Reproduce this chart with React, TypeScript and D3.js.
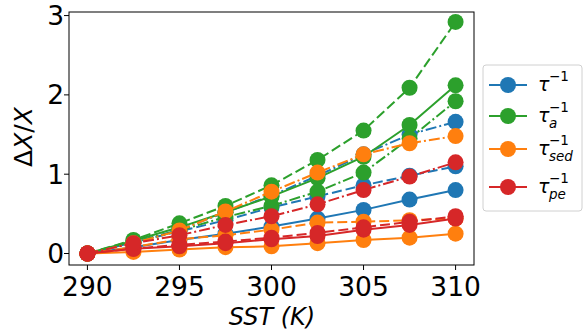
import React from "react";
import * as d3 from "d3";

// SST grid (K)
const sst = [290, 292.5, 295, 297.5, 300, 302.5, 305, 307.5, 310];

// ΔX/X, one array per quantity and line style (solid / dashed / dash-dot)
const tauSolid = [0, 0.08, 0.17, 0.25, 0.34, 0.44, 0.55, 0.68, 0.8];
const tauDashed = [0, 0.14, 0.28, 0.42, 0.58, 0.72, 0.86, 0.98, 1.1];
const tauDashDot = [0, 0.14, 0.3, 0.52, 0.73, 0.98, 1.25, 1.5, 1.66];

const tauASolid = [0, 0.16, 0.33, 0.52, 0.72, 0.95, 1.22, 1.62, 2.12];
const tauADashed = [0, 0.17, 0.38, 0.6, 0.86, 1.18, 1.55, 2.09, 2.92];
const tauADashDot = [0, 0.14, 0.29, 0.46, 0.6, 0.78, 1.02, 1.45, 1.92];

const tauSedSolid = [0, 0.02, 0.05, 0.08, 0.09, 0.13, 0.17, 0.2, 0.25];
const tauSedDashed = [0, 0.08, 0.18, 0.23, 0.3, 0.39, 0.4, 0.42, 0.44];
const tauSedDashDot = [0, 0.13, 0.29, 0.53, 0.78, 1.02, 1.25, 1.39, 1.48];

const tauPeSolid = [0, 0.06, 0.09, 0.13, 0.18, 0.22, 0.3, 0.36, 0.44];
const tauPeDashed = [0, 0.06, 0.11, 0.15, 0.2, 0.26, 0.33, 0.4, 0.47];
const tauPeDashDot = [0, 0.13, 0.23, 0.36, 0.47, 0.62, 0.8, 0.97, 1.15];

const xTicks = [290, 295, 300, 305, 310];
const yTicks = [0, 1, 2, 3];

const BLUE = "#1f77b4";
const GREEN = "#2ca02c";
const ORANGE = "#ff7f0e";
const RED = "#d62728";

const DASHED = "10,4";
const DASHDOT = "11,3,2,3";

const series = [
  { c: BLUE, d: tauSolid, dash: "" },
  { c: BLUE, d: tauDashed, dash: DASHED },
  { c: BLUE, d: tauDashDot, dash: DASHDOT },
  { c: GREEN, d: tauASolid, dash: "" },
  { c: GREEN, d: tauADashed, dash: DASHED },
  { c: GREEN, d: tauADashDot, dash: DASHDOT },
  { c: ORANGE, d: tauSedSolid, dash: "" },
  { c: ORANGE, d: tauSedDashed, dash: DASHED },
  { c: ORANGE, d: tauSedDashDot, dash: DASHDOT },
  { c: RED, d: tauPeSolid, dash: "" },
  { c: RED, d: tauPeDashed, dash: DASHED },
  { c: RED, d: tauPeDashDot, dash: DASHDOT },
];

const legend = [
  { c: BLUE, sub: "" },
  { c: GREEN, sub: "a" },
  { c: ORANGE, sub: "sed" },
  { c: RED, sub: "pe" },
];

const W = 585;
const H = 336;
const left = 69;
const right = 474;
const top = 12;
const bottom = 265;
const FONT = "DejaVu Sans, sans-serif";

export default function App() {
  const x = d3.scaleLinear().domain([289, 311]).range([left, right]);
  const y = d3.scaleLinear().domain([-0.145, 3.045]).range([bottom, top]);
  const lineGen = d3
    .line<number>()
    .x((d, i) => x(sst[i]))
    .y((d) => y(d));

  const legendY = [85, 116, 149, 187];

  return (
    <svg
      width={W}
      height={H}
      style={{ position: "absolute", left: 0, top: 0, background: "#fff" }}
      fontFamily={FONT}
    >
      {/* series: line then markers, like matplotlib */}
      <g>
        {series.map((s, k) => (
          <g key={k}>
            <path
              d={lineGen(s.d) || ""}
              fill="none"
              stroke={s.c}
              strokeWidth={2}
              strokeDasharray={s.dash || undefined}
            />
            {s.d.map((v, i) => (
              <circle key={i} cx={x(sst[i])} cy={y(v)} r={8} fill={s.c} />
            ))}
          </g>
        ))}
      </g>

      {/* frame */}
      <rect
        x={left}
        y={top}
        width={right - left}
        height={bottom - top}
        fill="none"
        stroke="#000"
        strokeWidth={1}
      />

      {/* x axis */}
      {xTicks.map((t) => (
        <g key={t} transform={`translate(${x(t)},${bottom})`}>
          <line y2={5} stroke="#000" strokeWidth={1} />
          <text y={31} textAnchor="middle" fontSize={26.5} fill="#000">
            {t}
          </text>
        </g>
      ))}
      <text
        x={272}
        y={325}
        textAnchor="middle"
        fontSize={24}
        fontStyle="italic"
        fill="#000"
      >
        SST (K)
      </text>

      {/* y axis */}
      {yTicks.map((t) => (
        <g key={t} transform={`translate(${left},${y(t)})`}>
          <line x2={-5} stroke="#000" strokeWidth={1} />
          <text x={-5} dy="0.36em" textAnchor="end" fontSize={26.5} fill="#000">
            {t}
          </text>
        </g>
      ))}
      <text
        transform={`translate(32,137) rotate(-90)`}
        textAnchor="middle"
        fontSize={25}
        fill="#000"
      >
        Δ<tspan fontStyle="italic">X</tspan>/<tspan fontStyle="italic">X</tspan>
      </text>

      {/* legend */}
      <rect
        x={483}
        y={65}
        width={99}
        height={146}
        rx={3}
        fill="#fff"
        stroke="#d0d0d0"
        strokeWidth={1}
      />
      {legend.map((l, i) => (
        <g key={i} transform={`translate(0,${legendY[i]})`}>
          <line x1={489} x2={527} stroke={l.c} strokeWidth={2} />
          <circle cx={508} cy={0} r={8} fill={l.c} />
          <text x={538} y={6} fontSize={19} fontStyle="italic" fill="#000">
            τ
          </text>
          <text x={549} y={-4} fontSize={13.5} fill="#000">
            −1
          </text>
          {l.sub && (
            <text x={549} y={12} fontSize={13.5} fontStyle="italic" fill="#000">
              {l.sub}
            </text>
          )}
        </g>
      ))}
    </svg>
  );
}
